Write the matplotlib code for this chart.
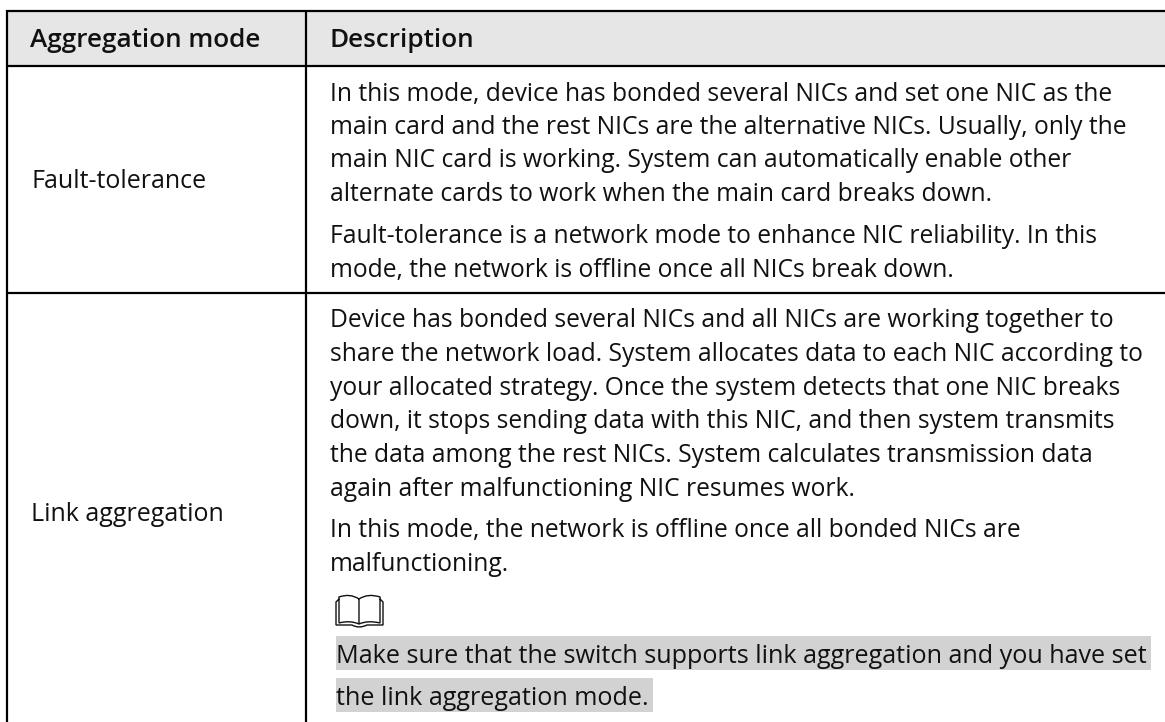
import matplotlib
matplotlib.use("Agg")
import matplotlib.pyplot as plt
from matplotlib.patches import Rectangle, PathPatch
from matplotlib.path import Path

W, H = 1165, 722
FONT = "Open Sans"
SIZE = 17.75

# header and first column
headers = ["Aggregation mode", "Description"]
modes = ["Fault-tolerance", "Link aggregation"]

# description column, one string per line as wrapped in the picture
fault_lines = [
    "In this mode, device has bonded several NICs and set one NIC as the",
    "main card and the rest NICs are the alternative NICs. Usually, only the",
    "main NIC card is working. System can automatically enable other",
    "alternate cards to work when the main card breaks down.",
    "Fault-tolerance is a network mode to enhance NIC reliability. In this",
    "mode, the network is offline once all NICs break down.",
]
link_lines = [
    "Device has bonded several NICs and all NICs are working together to",
    "share the network load. System allocates data to each NIC according to",
    "your allocated strategy. Once the system detects that one NIC breaks",
    "down, it stops sending data with this NIC, and then system transmits",
    "the data among the rest NICs. System calculates transmission data",
    "again after malfunctioning NIC resumes work.",
    "In this mode, the network is offline once all bonded NICs are",
    "malfunctioning.",
]
note_lines = [
    "Make sure that the switch supports link aggregation and you have set",
    "the link aggregation mode.",
]

# baselines in pixels from the top
fault_y = [101, 134, 167, 201, 243, 277]
link_y = [327, 361, 395, 428, 462, 496, 537, 571]
note_y = [663, 705]

fig = plt.figure(figsize=(W / 100, H / 100), dpi=100)
ax = fig.add_axes([0, 0, 1, 1])
ax.set_xlim(0, W)
ax.set_ylim(H, 0)
ax.axis("off")

# header band
ax.add_patch(Rectangle((7, 11), W - 7, 55, fc="#e6e6e6", ec="none"))

# grid lines
lw = 1.6
for y in [11, 66, 293]:
    ax.plot([6, W], [y, y], color="black", lw=lw, solid_capstyle="butt")
for x in [7, 306]:
    ax.plot([x, x], [10, H], color="black", lw=lw, solid_capstyle="butt")

# grey behind the note
ax.add_patch(Rectangle((336, 636), 815, 34, fc="#d2d2d2", ec="none"))
ax.add_patch(Rectangle((336, 678), 317, 34, fc="#d2d2d2", ec="none"))


def put(x, y, s, weight="normal", size=SIZE):
    ax.text(x, y, s, family=FONT, fontsize=size, fontweight=weight,
            color="#111111", ha="left", va="baseline")


put(30, 47, headers[0], "semibold", 18.8)
put(329, 47, headers[1], "semibold", 18.8)
put(31, 188, modes[0], size=18.0)
put(31, 521, modes[1], size=18.0)

for s, y in zip(fault_lines, fault_y):
    put(330, y, s)
for s, y in zip(link_lines, link_y):
    put(330, y, s)
for s, y in zip(note_lines, note_y):
    put(336, y, s, size=18.1)

# book icon
M, L, C = Path.MOVETO, Path.LINETO, Path.CURVE3
x0, y0 = 336, 594
verts = [
    (x0 + 23, y0 + 5), (x0 + 14, y0 - 1), (x0 + 3, y0 + 3),
    (x0 + 3, y0 + 29), (x0 + 14, y0 + 26), (x0 + 23, y0 + 30),
    (x0 + 32, y0 + 26), (x0 + 44, y0 + 29),
    (x0 + 44, y0 + 3), (x0 + 32, y0 - 1), (x0 + 23, y0 + 5),
    (x0 + 23, y0 + 30),
    (x0 + 3, y0 + 5), (x0, y0 + 8), (x0, y0 + 31), (x0 + 16, y0 + 31),
    (x0 + 23, y0 + 35), (x0 + 31, y0 + 31), (x0 + 47, y0 + 31),
    (x0 + 47, y0 + 8), (x0 + 44, y0 + 5),
]
codes = [M, C, C, L, C, C, C, C, L, C, C, L, M, L, L, L, C, C, L, L, L]
ax.add_patch(PathPatch(Path(verts, codes), fc="none", ec="#111111", lw=1.0))

fig.savefig("out.png", dpi=100)
